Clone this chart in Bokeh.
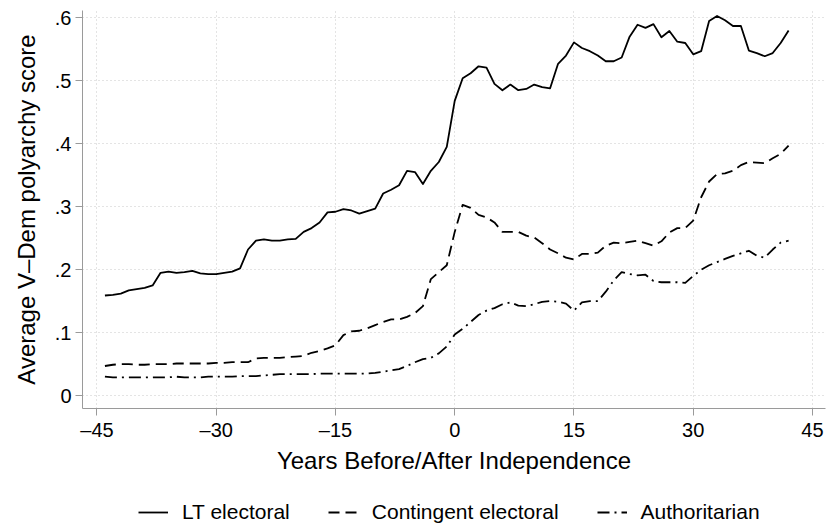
from bokeh.plotting import figure
from bokeh.layouts import column
from bokeh.models import Range1d, FixedTicker, Legend, LegendItem
from bokeh.embed import file_html
from bokeh.resources import INLINE

years = list(range(-44, 43))

lt_electoral = [
    0.159, 0.160, 0.162, 0.167, 0.169, 0.171, 0.175, 0.195, 0.197, 0.195,
    0.196, 0.198, 0.194, 0.193, 0.193, 0.195, 0.197, 0.202, 0.232, 0.246,
    0.248, 0.246, 0.246, 0.248, 0.249, 0.260, 0.266, 0.275, 0.291, 0.292,
    0.296, 0.294, 0.289, 0.293, 0.297, 0.321, 0.327, 0.334, 0.357, 0.355,
    0.336, 0.357, 0.371, 0.395, 0.468, 0.504, 0.512, 0.523, 0.521, 0.495,
    0.485, 0.494, 0.485, 0.487, 0.494, 0.490, 0.488, 0.527, 0.540, 0.561,
    0.552, 0.547, 0.540, 0.531, 0.531, 0.537, 0.570, 0.589, 0.584, 0.590,
    0.569, 0.579, 0.562, 0.560, 0.542, 0.547, 0.595, 0.603, 0.596, 0.587,
    0.587, 0.548, 0.544, 0.539, 0.544, 0.560, 0.580,
]

contingent_electoral = [
    0.047, 0.049, 0.050, 0.050, 0.049, 0.049, 0.050, 0.050, 0.050, 0.051,
    0.051, 0.051, 0.051, 0.051, 0.052, 0.052, 0.053, 0.053, 0.053, 0.059,
    0.060, 0.060, 0.060, 0.061, 0.062, 0.063, 0.068, 0.071, 0.075, 0.080,
    0.096, 0.102, 0.103, 0.107, 0.112, 0.117, 0.121, 0.121, 0.125, 0.131,
    0.142, 0.185, 0.196, 0.207, 0.260, 0.303, 0.298, 0.287, 0.283, 0.275,
    0.260, 0.260, 0.260, 0.254, 0.251, 0.242, 0.232, 0.226, 0.219, 0.216,
    0.225, 0.225, 0.227, 0.238, 0.243, 0.242, 0.244, 0.246, 0.242, 0.238,
    0.245, 0.259, 0.266, 0.266, 0.278, 0.315, 0.340, 0.352, 0.353, 0.357,
    0.366, 0.371, 0.370, 0.369, 0.377, 0.384, 0.397,
]

authoritarian = [
    0.030, 0.029, 0.029, 0.029, 0.029, 0.029, 0.029, 0.029, 0.029, 0.030,
    0.029, 0.029, 0.029, 0.030, 0.030, 0.030, 0.030, 0.031, 0.031, 0.031,
    0.032, 0.033, 0.034, 0.034, 0.034, 0.034, 0.034, 0.035, 0.035, 0.035,
    0.035, 0.035, 0.035, 0.035, 0.036, 0.038, 0.040, 0.042, 0.047, 0.053,
    0.058, 0.060, 0.067, 0.078, 0.097, 0.106, 0.117, 0.128, 0.135, 0.139,
    0.145, 0.148, 0.143, 0.142, 0.145, 0.149, 0.150, 0.149, 0.146, 0.135,
    0.148, 0.150, 0.150, 0.165, 0.183, 0.196, 0.193, 0.191, 0.192, 0.182,
    0.180, 0.180, 0.180, 0.179, 0.190, 0.200, 0.207, 0.212, 0.217, 0.222,
    0.226, 0.230, 0.222, 0.219, 0.232, 0.243, 0.246,
]

x_ticks = [-45, -30, -15, 0, 15, 30, 45]
x_tick_labels = ["–45", "–30", "–15", "0", "15", "30", "45"]
y_ticks = [0, 0.1, 0.2, 0.3, 0.4, 0.5, 0.6]
y_tick_labels = ["0", ".1", ".2", ".3", ".4", ".5", ".6"]

series_names = ["LT electoral", "Contingent electoral", "Authoritarian"]
series_dash = ["solid", "11 6", "12 5 2 5"]
series_values = [lt_electoral, contingent_electoral, authoritarian]

FONT = "Liberation Sans"
AX = "#9a9a9a"
LW = 1.8

p = figure(width=827, height=490, output_backend="svg", toolbar_location=None,
           x_range=Range1d(-46.82, 46.64), y_range=Range1d(-0.0205, 0.6116),
           min_border_left=82, min_border_right=2, min_border_top=10,
           min_border_bottom=82)
p.outline_line_color = None
p.background_fill_color = "white"
p.border_fill_color = "white"

for vals, dash in zip(series_values, series_dash):
    p.line(years, vals, line_color="black", line_width=LW, line_dash=dash,
           line_join="round")

p.xaxis.ticker = FixedTicker(ticks=x_ticks)
p.xaxis.major_label_overrides = {t: l for t, l in zip(x_ticks, x_tick_labels)}
p.yaxis.ticker = FixedTicker(ticks=y_ticks)
p.yaxis.major_label_overrides = {t: l for t, l in zip(y_ticks, y_tick_labels)}

for ax in (p.xaxis, p.yaxis):
    ax.axis_line_color = AX
    ax.major_tick_line_color = AX
    ax.minor_tick_line_color = None
    ax.major_tick_in = 0
    ax.major_tick_out = 7
    ax.major_label_text_font = FONT
    ax.major_label_text_font_size = "20px"
    ax.major_label_text_color = "black"
    ax.axis_label_text_font = FONT
    ax.axis_label_text_font_size = "24px"
    ax.axis_label_text_font_style = "normal"
    ax.axis_label_text_color = "black"

p.xaxis.axis_label = "Years Before/After Independence"
p.yaxis.axis_label = "Average V–Dem polyarchy score"
p.xaxis.major_label_standoff = 3
p.xaxis.axis_label_standoff = 3
p.yaxis.major_label_standoff = 4
p.yaxis.axis_label_standoff = 12
p.yaxis.major_label_orientation = "horizontal"

p.xgrid.ticker = FixedTicker(ticks=x_ticks)
p.ygrid.ticker = FixedTicker(ticks=y_ticks)
for g in (p.xgrid, p.ygrid):
    g.grid_line_color = "#c8c8c8"
    g.grid_line_dash = "1 3"
    g.grid_line_width = 1

# Legend strip below the plot: same series, drawn out of view so only the
# legend samples show.
lg = figure(width=827, height=37, output_backend="svg", toolbar_location=None,
            x_range=Range1d(-46.82, 46.64), y_range=Range1d(10, 11),
            min_border_left=82, min_border_right=2, min_border_top=0,
            min_border_bottom=0)
lg.axis.visible = False
lg.grid.visible = False
lg.outline_line_color = None
lg.border_fill_color = "white"
lg.background_fill_color = "white"
items = []
for name, vals, dash in zip(series_names, series_values, series_dash):
    r = lg.line(years, vals, line_color="black", line_width=LW, line_dash=dash)
    items.append(LegendItem(label=name, renderers=[r]))
legend = Legend(items=items, orientation="horizontal", location=(56, 3))
legend.label_text_font = FONT
legend.label_text_font_size = "21px"
legend.label_text_color = "black"
legend.glyph_width = 30
legend.glyph_height = 20
legend.label_standoff = 14
legend.spacing = 38
legend.padding = 0
legend.margin = 0
legend.border_line_color = None
legend.background_fill_alpha = 0
lg.add_layout(legend)

layout = column(p, lg, spacing=0)
open("out.html", "w").write(file_html(layout, INLINE))
